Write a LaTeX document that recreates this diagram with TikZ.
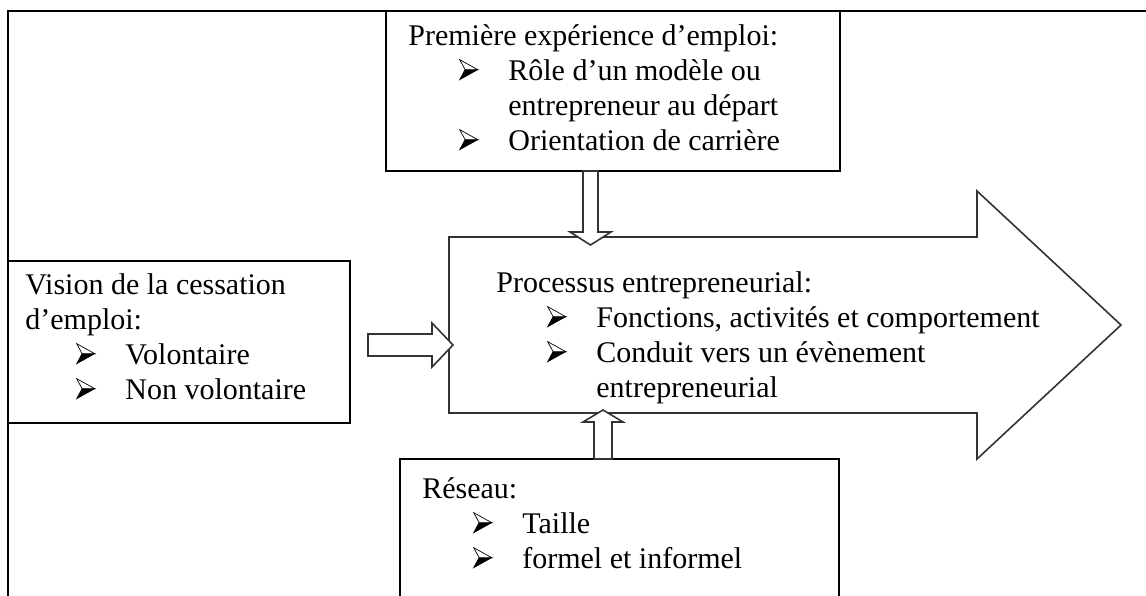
\documentclass[tikz,border=0pt]{standalone}
\usepackage{fontspec}
\setmainfont{Liberation Serif}
\usetikzlibrary{calc}

% three-dimensional arrowhead bullet (upper half light, lower half black)
\newcommand\bul{\begin{pgfpicture}%
  \pgfsetlinewidth{0.35pt}%
  \pgfsetmiterjoin
  \pgfsetfillcolor{black}%
  \pgfpathmoveto{\pgfpoint{0pt}{0pt}}%
  \pgfpathlineto{\pgfpoint{9pt}{5pt}}%
  \pgfpathlineto{\pgfpoint{2.7pt}{5pt}}%
  \pgfpathclose
  \pgfusepath{fill,stroke}%
  \pgfsetfillcolor{white}%
  \pgfpathmoveto{\pgfpoint{0pt}{10pt}}%
  \pgfpathlineto{\pgfpoint{9pt}{5pt}}%
  \pgfpathlineto{\pgfpoint{2.7pt}{5pt}}%
  \pgfpathclose
  \pgfusepath{fill,stroke}%
\end{pgfpicture}}
\newcommand\itm[1]{\hspace*{25.5pt}\makebox[24.5pt][l]{\bul}#1}
\newcommand\cnt[1]{\hspace*{50pt}#1}

\begin{document}
\begin{tikzpicture}[x=0.5pt,y=-0.5pt,
  frame/.style={line width=1.1pt,black},
  box/.style={draw=black,line width=1pt,inner sep=0pt,outer sep=0pt},
  bigarr/.style={draw=black!80,line width=0.8pt,fill=white,line join=miter},
  blockarr/.style={draw=black!80,line width=0.8pt,fill=white,line join=miter},
  txt/.style={inner sep=0pt,anchor=base west,font=\fontsize{15pt}{17.5pt}\selectfont}]

\useasboundingbox (0,0) rectangle (1146,595);
\clip (0,0) rectangle (1146,595);

% outer frame, open to the right and bottom
\draw[frame] (8,640) -- (8,11) -- (1180,11);

% the three boxes
\node[box, minimum width=227pt, minimum height=80pt, anchor=north west] (topbox) at (386,11) {};
\node[box, minimum width=171pt, minimum height=81pt, anchor=north west] (leftbox) at (8,261) {};
\node[box, minimum width=219.5pt, minimum height=90pt, anchor=north west] (netbox) at (400,459) {};

% central process arrow
\coordinate (procNW) at (449,237);
\coordinate (procSW) at (449,413);
\coordinate (procTip) at (1121,325);
\draw[bigarr] (procNW) -- (977,237) -- (977,191) -- (procTip) -- (977,459) -- (977,413) -- (procSW) -- cycle;

% block arrow from the top box down into the process
\coordinate (dnA) at ($(topbox.south west)+(204.5,0)$);
\coordinate (dnB) at ($(dnA |- procNW)+(0,8)$);
\draw[blockarr] ($(dnA)+(-7.5,0)$) -- ($(dnB)+(-7.5,-13)$) -- ($(dnB)+(-20.5,-13)$) -- (dnB)
  -- ($(dnB)+(20.5,-13)$) -- ($(dnB)+(7.5,-13)$) -- ($(dnA)+(7.5,0)$) -- cycle;

% block arrow from the network box up into the process
\coordinate (upA) at ($(netbox.north west)+(203,0)$);
\coordinate (upB) at ($(upA |- procSW)+(0,-3)$);
\draw[blockarr] ($(upA)+(-9,0)$) -- ($(upB)+(-9,12)$) -- ($(upB)+(-20,12)$) -- (upB)
  -- ($(upB)+(20,12)$) -- ($(upB)+(9,12)$) -- ($(upA)+(9,0)$) -- cycle;

% block arrow from the left box into the process
\coordinate (lfA) at ($(leftbox.east)+(18,3)$);
\coordinate (lfB) at ($(procNW |- lfA)+(4,0)$);
\draw[blockarr] ($(lfA)+(0,-11)$) -- ($(lfB)+(-21,-11)$) -- ($(lfB)+(-21,-22)$) -- (lfB)
  -- ($(lfB)+(-21,22)$) -- ($(lfB)+(-21,11)$) -- ($(lfA)+(0,11)$) -- cycle;

% texts
\node[txt] (toptxt) at (408,45) {\parbox[t]{300pt}{\raggedright
  Première expérience d’emploi:\\
  \itm{Rôle d’un modèle ou}\\
  \cnt{entrepreneur au départ}\\
  \itm{Orientation de carrière}}};

\node[txt] (lefttxt) at (25,294) {\parbox[t]{300pt}{\raggedright
  Vision de la cessation\\
  d’emploi:\\
  \itm{Volontaire}\\
  \itm{Non volontaire}}};

\node[txt] (proctxt) at (496,292) {\parbox[t]{400pt}{\raggedright
  Processus entrepreneurial:\\
  \itm{Fonctions, activités et comportement}\\
  \itm{Conduit vers un évènement}\\
  \cnt{entrepreneurial}}};

\node[txt] (nettxt) at (422,498) {\parbox[t]{300pt}{\raggedright
  Réseau:\\
  \itm{Taille}\\
  \itm{formel et informel}}};
\end{tikzpicture}
\end{document}
